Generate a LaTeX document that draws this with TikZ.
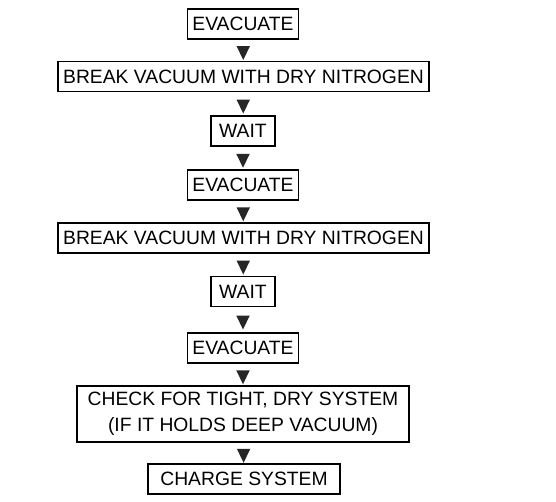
\documentclass[tikz,border=0pt]{standalone}
\usepackage{fontspec}
\setmainfont{Liberation Sans}
\usetikzlibrary{shapes.geometric}

\tikzset{
  stepbox/.style={draw, line width=1.7pt, minimum height=30pt, inner xsep=5pt, inner ysep=2pt,
    font=\fontsize{19.3}{25.5}\selectfont, align=center},
  tip/.style={isosceles triangle, isosceles triangle stretches, shape border rotate=-90,
    fill=black!85, inner sep=0pt, minimum width=13.5pt, minimum height=14pt}
}

\begin{document}
\begin{tikzpicture}[x=1pt,y=1pt]
\useasboundingbox (0,0) rectangle (556,-502);

\node[stepbox] (evac1) at (243,-24) {EVACUATE};
\node[stepbox] (break1) at (243.5,-76.5) {BREAK VACUUM WITH DRY NITROGEN};
\node[stepbox, minimum width=64pt] (wait1) at (243,-131) {WAIT};
\node[stepbox] (evac2) at (243,-185) {EVACUATE};
\node[stepbox] (break2) at (243.5,-238) {BREAK VACUUM WITH DRY NITROGEN};
\node[stepbox, minimum width=64pt] (wait2) at (243,-291.5) {WAIT};
\node[stepbox] (evac3) at (243,-348) {EVACUATE};
\node[stepbox, minimum width=332pt, minimum height=56pt] (check) at (243,-414)
  {CHECK FOR TIGHT, DRY SYSTEM\\(IF IT HOLDS DEEP VACUUM)};
\node[stepbox, minimum width=192pt] (charge) at (244,-479) {CHARGE SYSTEM};

\path (evac1) -- node[tip]{} (break1);
\path (break1) -- node[tip]{} (wait1);
\path (wait1) -- node[tip]{} (evac2);
\path (evac2) -- node[tip]{} (break2);
\path (break2) -- node[tip]{} (wait2);
\path (wait2) -- node[tip]{} (evac3);
\path (evac3) -- node[tip]{} (check);
\path (check) -- node[tip]{} (charge);
\end{tikzpicture}
\end{document}
